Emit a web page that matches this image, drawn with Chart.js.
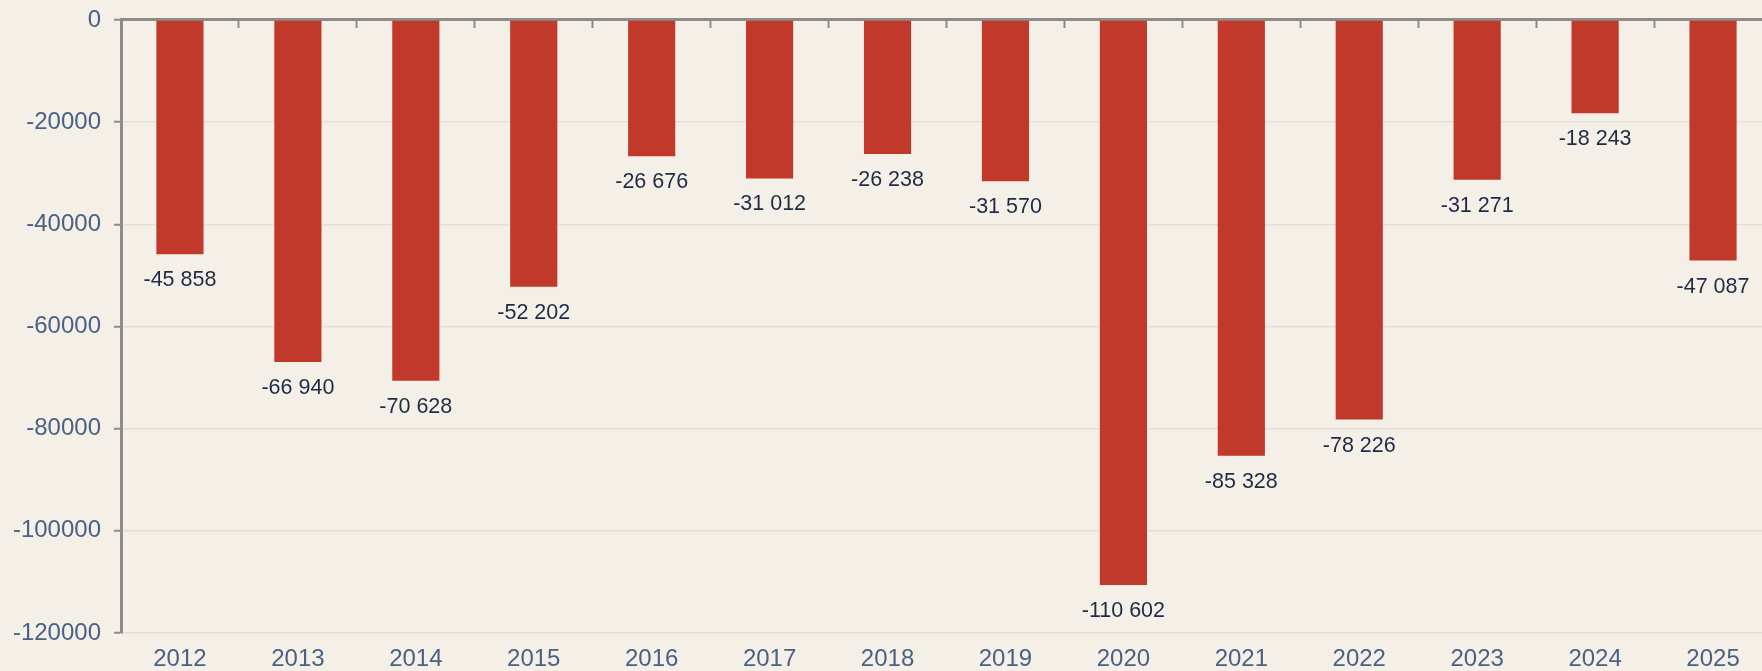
<!DOCTYPE html>
<html>
<head>
<meta charset="utf-8">
<script src="https://cdn.jsdelivr.net/npm/chart.js@4/dist/chart.umd.min.js"></script>
<style>
  html, body { margin: 0; padding: 0; background: #f4f0e8; overflow: hidden; }
  #wrap { width: 1772px; height: 671px; position: relative; }
</style>
</head>
<body>
<div id="wrap"><canvas id="c"></canvas></div>
<script>
const categories = ['2012','2013','2014','2015','2016','2017','2018','2019','2020','2021','2022','2023','2024','2025'];
const values = [-45858, -66940, -70628, -52202, -26676, -31012, -26238, -31570, -110602, -85328, -78226, -31271, -18243, -47087];
const yTicks = [0, -20000, -40000, -60000, -80000, -100000, -120000];

const AXIS_GREY = '#8f8c88';
const GRID = '#e2dfd9';
const LABEL_COLOR = '#4b6184';
const VALUE_COLOR = '#1f2b45';
const FONT = '"Liberation Sans", Arial, sans-serif';

function fmt(v) {
  const s = Math.abs(Math.round(v)).toString().replace(/\B(?=(\d{3})+(?!\d))/g, ' ');
  return (v < 0 ? '-' : '') + s;
}

const bgPlugin = {
  id: 'bg',
  beforeDraw(chart) {
    const ctx = chart.ctx;
    ctx.save();
    ctx.fillStyle = '#f4f0e8';
    ctx.fillRect(0, 0, chart.width, chart.height);
    ctx.restore();
  }
};

const valueLabels = {
  id: 'valueLabels',
  afterDatasetsDraw(chart) {
    const ctx = chart.ctx;
    const meta = chart.getDatasetMeta(0);
    ctx.save();
    ctx.font = '21.5px ' + FONT;
    ctx.fillStyle = VALUE_COLOR;
    ctx.textAlign = 'center';
    ctx.textBaseline = 'alphabetic';
    meta.data.forEach((bar, i) => {
      ctx.fillText(fmt(values[i]), bar.x, bar.y + 32);
    });
    ctx.restore();
  }
};

new Chart(document.getElementById('c'), {
  type: 'bar',
  data: {
    labels: categories,
    datasets: [{
      data: values,
      backgroundColor: '#c0392b',
      borderWidth: 0,
      barPercentage: 0.4,
      categoryPercentage: 1.0
    }]
  },
  options: {
    responsive: true,
    maintainAspectRatio: false,
    animation: false,
    layout: { padding: { left: 13, top: 0, right: 0, bottom: 0 } },
    plugins: { legend: { display: false }, tooltip: { enabled: false } },
    scales: {
      x: {
        position: 'bottom',
        grid: { display: false, drawTicks: false },
        border: { display: false },
        ticks: { color: LABEL_COLOR, font: { family: FONT, size: 24 }, padding: 12, maxRotation: 0 },
        afterFit(scale) { scale.height = 38; }
      },
      x2: {
        axis: 'x',
        type: 'category',
        position: { y: 0 },
        grid: { drawOnChartArea: false, drawTicks: true, tickLength: 7, tickColor: AXIS_GREY, tickWidth: 2, offset: true },
        border: { display: true, color: AXIS_GREY, width: 3 },
        ticks: { display: false }
      },
      y: {
        min: -120000,
        max: 0,
        afterBuildTicks(scale) { scale.ticks = yTicks.map(v => ({ value: v })); },
        afterFit(scale) { scale.width = 108; },
        grid: {
          color: ctx => (ctx.tick && ctx.tick.value === 0) ? 'rgba(0,0,0,0)' : GRID,
          lineWidth: 1.5,
          tickColor: AXIS_GREY,
          tickLength: 7,
          tickWidth: 2
        },
        border: { display: true, color: AXIS_GREY, width: 3 },
        ticks: {
          color: LABEL_COLOR,
          font: { family: FONT, size: 24, lineHeight: 0.58 },
          padding: 13,
          callback: v => String(v)
        }
      }
    }
  },
  plugins: [bgPlugin, valueLabels]
});
</script>
</body>
</html>
